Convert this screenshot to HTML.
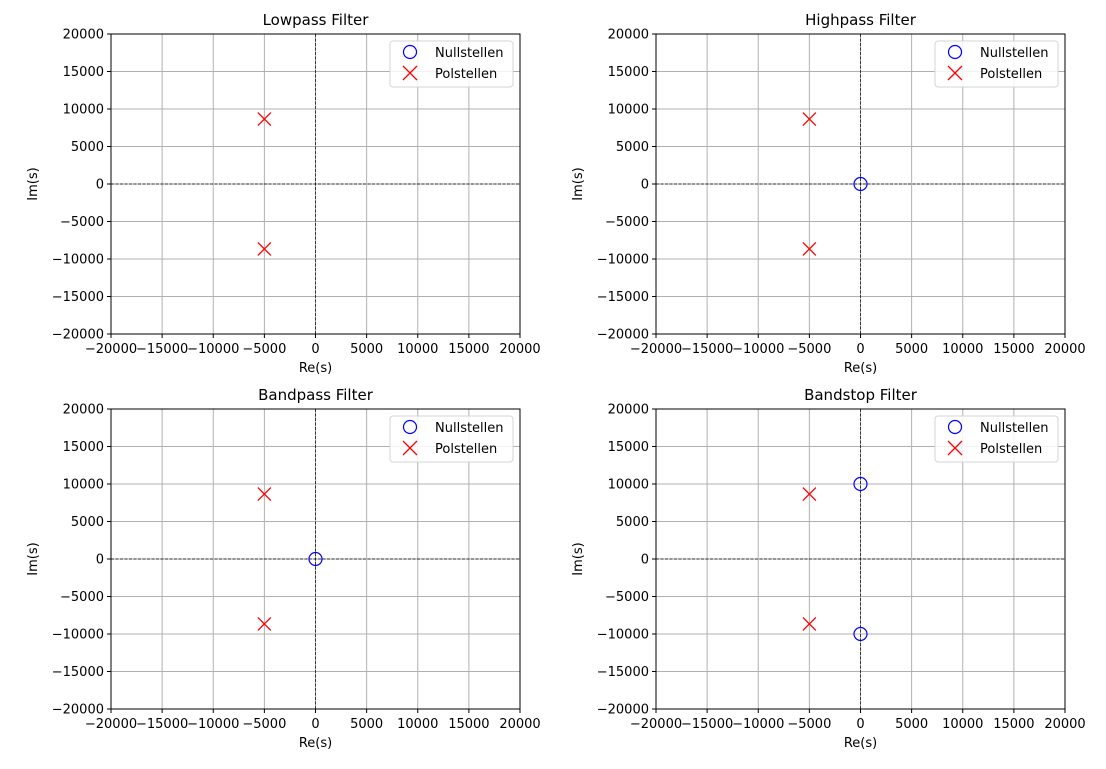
<!DOCTYPE html>
<html><head><meta charset="utf-8"><style>
body{margin:0;background:#fff}
svg{font-family:"DejaVu Sans","Liberation Sans",sans-serif}
</style></head><body>
<svg id="fig" width="1106" height="764" xmlns="http://www.w3.org/2000/svg"></svg>
<script>
const titles=["Lowpass Filter","Highpass Filter","Bandpass Filter","Bandstop Filter"];
const zerosRe=[[],[0],[0],[0,0]];
const zerosIm=[[],[0],[0],[10000,-10000]];
const polesRe=[[-5000,-5000],[-5000,-5000],[-5000,-5000],[-5000,-5000]];
const polesIm=[[8660,-8660],[8660,-8660],[8660,-8660],[8660,-8660]];
const ticks=[-20000,-15000,-10000,-5000,0,5000,10000,15000,20000];
const panels=[[111,34],[656,34],[111,409],[656,409]];
const W=409,H=300,NS="http://www.w3.org/2000/svg";
const svg=document.getElementById('fig');
function el(t,a,p){const e=document.createElementNS(NS,t);for(const k in a)e.setAttribute(k,a[k]);(p||svg).appendChild(e);return e;}
const fmt=t=>String(t).replace('-','\u2212');
panels.forEach((pp,i)=>{
 const [x0,y0]=pp;
 const g=el('g',{});
 
 
 const sx=v=>x0+(v+20000)/40000*W, sy=v=>y0+H-(v+20000)/40000*H;
 ticks.forEach(t=>{
  el('line',{x1:sx(t),x2:sx(t),y1:y0,y2:y0+H,stroke:'#b0b0b0','stroke-width':1},g);
  el('line',{x1:x0,x2:x0+W,y1:sy(t),y2:sy(t),stroke:'#b0b0b0','stroke-width':1},g);
  el('line',{x1:sx(t),x2:sx(t),y1:y0+H,y2:y0+H+4,stroke:'#000'},g);
  el('line',{x1:x0-4,x2:x0,y1:sy(t),y2:sy(t),stroke:'#000'},g);
  const tx=el('text',{x:sx(t),y:y0+H+19,'text-anchor':'middle','font-size':13},g);tx.textContent=fmt(t);
  
  const ty=el('text',{x:x0-7,y:sy(t)+4.5,'text-anchor':'end','font-size':13},g);ty.textContent=fmt(t);
  
 });
 el('line',{x1:sx(0),x2:sx(0),y1:y0,y2:y0+H,stroke:'#000','stroke-width':0.7,'stroke-dasharray':'3,1.5'},g);
 el('line',{x1:x0,x2:x0+W,y1:sy(0),y2:sy(0),stroke:'#000','stroke-width':0.7,'stroke-dasharray':'3,1.5'},g);
 polesRe[i].forEach((r,j)=>{const cx=sx(r),cy=sy(polesIm[i][j]);
  const p=el('path',{d:`M${cx-6.5},${cy-6.5}L${cx+6.5},${cy+6.5}M${cx-6.5},${cy+6.5}L${cx+6.5},${cy-6.5}`,stroke:'red','stroke-width':1.3,fill:'none'},g);
  });
 zerosRe[i].forEach((r,j)=>{
  const c=el('circle',{cx:sx(r),cy:sy(zerosIm[i][j]),r:6.5,stroke:'blue','stroke-width':1.2,fill:'none'},g);
  });
 el('rect',{x:x0,y:y0,width:W,height:H,fill:'none',stroke:'#000','stroke-width':1},g);
 const tt=el('text',{x:x0+W/2,y:y0-9,'text-anchor':'middle','font-size':15},g);tt.textContent=titles[i];
 
 const xl=el('text',{x:x0+W/2,y:y0+H+38,'text-anchor':'middle','font-size':13},g);xl.textContent='Re(s)';
 
 const yl=el('text',{x:0,y:0,'text-anchor':'middle','font-size':13,transform:`translate(${x0-74},${y0+H/2}) rotate(-90)`},g);yl.textContent='Im(s)';
 
 const lg=el('g',{},g);
 
 const lx=x0+W-130,ly=y0+7;
 el('rect',{x:lx,y:ly,width:123,height:46,rx:3,fill:'#fff','fill-opacity':0.85,stroke:'#d5d5d5'},lg);
 el('circle',{cx:lx+20,cy:ly+11,r:6.5,stroke:'blue','stroke-width':1.2,fill:'none'},lg);
 const cx=lx+20,cy=ly+32;
 el('path',{d:`M${cx-7},${cy-7}L${cx+7},${cy+7}M${cx-7},${cy+7}L${cx+7},${cy-7}`,stroke:'red','stroke-width':1.3},lg);
 const l1=el('text',{x:lx+45,y:ly+16,'font-size':13},lg);l1.textContent='Nullstellen';
 
 const l2=el('text',{x:lx+45,y:ly+37,'font-size':13},lg);l2.textContent='Polstellen';
 
});
</script>
</body></html>
